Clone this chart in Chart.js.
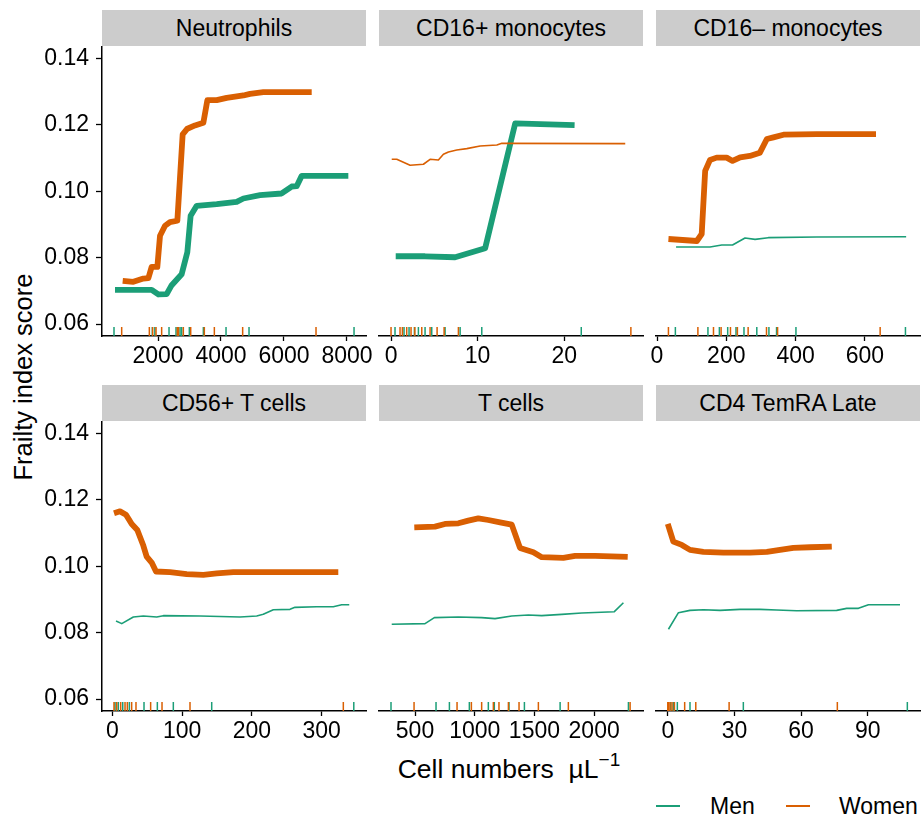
<!DOCTYPE html>
<html>
<head>
<meta charset="utf-8">
<script src="https://cdn.jsdelivr.net/npm/chart.js@4.4.1/dist/chart.umd.min.js"></script>
<style>
  html, body { margin: 0; padding: 0; background: #fff; overflow: hidden; }
  body { width: 921px; height: 818px; position: relative; font-family: "Liberation Sans", Arial, sans-serif; color: #000; }
  .strip { position: absolute; height: 36px; background: #ccc; font-size: 23px; line-height: 37px; text-align: center; white-space: nowrap; }
  canvas { position: absolute; }
  .ytitle { position: absolute; left: 23px; top: 377px; font-size: 25.5px; white-space: nowrap; transform: translate(-50%, -50%) rotate(-90deg); }
  .xtitle { position: absolute; left: 509px; top: 768px; font-size: 26.5px; white-space: nowrap; transform: translate(-50%, -50%); }
  .xtitle sup { font-size: 19px; position: relative; top: -2px; }
  .key { position: absolute; height: 2.2px; width: 24px; top: 805px; }
  .keytext { position: absolute; font-size: 23px; top: 793px; line-height: 26px; }
</style>
</head>
<body>
<div class="ytitle">Frailty index score</div>
<div class="xtitle">Cell numbers&nbsp; µL<sup>−1</sup></div>
<div class="key" style="left:656px;background:#1B9E77"></div>
<div class="keytext" style="left:710px">Men</div>
<div class="key" style="left:786px;background:#D95F02"></div>
<div class="keytext" style="left:839px">Women</div>

<script>
// ── Data ─────────────────────────────────────────────────────────────────────

const panelTitles = ['Neutrophils', 'CD16+ monocytes', 'CD16– monocytes', 'CD56+ T cells', 'T cells', 'CD4 TemRA Late'];

const yTicks = [0.06, 0.08, 0.10, 0.12, 0.14];

// Neutrophils
const neutroTicks = [2000, 4000, 6000, 8000];
const neutroMenX = [635, 1799, 2011, 2275, 2434, 2751, 2931, 3036, 3228, 3864, 4499, 4710, 5239, 5927, 6245, 6403, 6562, 8043];
const neutroMenY = [0.0703, 0.0703, 0.0689, 0.0690, 0.0717, 0.0750, 0.0816, 0.0926, 0.0956, 0.0961, 0.0968, 0.0978, 0.0988, 0.0993, 0.1014, 0.1015, 0.1046, 0.1046];
const neutroWomenX = [879, 1217, 1535, 1693, 1799, 1979, 2064, 2223, 2381, 2614, 2783, 2931, 3175, 3440, 3567, 3864, 4181, 4710, 4921, 5345, 6880];
const neutroWomenY = [0.0730, 0.0727, 0.0737, 0.0738, 0.0772, 0.0772, 0.0866, 0.0896, 0.0907, 0.0911, 0.1171, 0.1188, 0.1198, 0.1206, 0.1274, 0.1274, 0.1281, 0.1288, 0.1293, 0.1298, 0.1298];
const neutroRugMen = [603, 1820, 1900, 2350, 2572, 2700, 2751, 2995, 3440, 4160, 4890, 8224];
const neutroRugWomen = [847, 1725, 1830, 1937, 2116, 2614, 2650, 2804, 3038, 3471, 3789, 4688, 7017];

// CD16+ monocytes
const cd16pTicks = [0, 10, 20];
const cd16pMenX = [0.54, 3.93, 7.40, 10.87, 14.34, 21.2];
const cd16pMenY = [0.0804, 0.0804, 0.0801, 0.0828, 0.1204, 0.1199];
const cd16pWomenX = [0.08, 0.66, 2.20, 3.74, 4.51, 5.47, 6.05, 6.63, 7.59, 8.75, 10.29, 12.22, 12.8, 27.05];
const cd16pWomenY = [0.1096, 0.1096, 0.1078, 0.1081, 0.1096, 0.1094, 0.1111, 0.1118, 0.1124, 0.1128, 0.1136, 0.1139, 0.1144, 0.1143];
const cd16pRugMen = [0.46, 1.5, 2.08, 2.7, 3.16, 3.93, 4.7, 6.24, 7.98, 10.48, 21.97];
const cd16pRugWomen = [0.0, 1.04, 1.31, 1.81, 2.31, 2.75, 3.55, 4.51, 5.32, 6.13, 7.78, 27.7];

// CD16- monocytes
const cd16nTicks = [0, 200, 400, 600];
const cd16nMenX = [55, 153, 187, 218, 254, 283, 321, 461, 719];
const cd16nMenY = [0.0832, 0.0832, 0.0838, 0.0838, 0.0859, 0.0855, 0.0860, 0.0862, 0.0863];
const cd16nWomenX = [33, 115, 129, 139, 153, 172, 201, 218, 240, 268, 297, 317, 336, 365, 461, 632];
const cd16nWomenY = [0.0856, 0.0850, 0.0871, 0.1061, 0.1094, 0.1101, 0.1101, 0.1091, 0.1102, 0.1106, 0.1116, 0.1157, 0.1162, 0.1170, 0.1172, 0.1172];
const cd16nRugMen = [53, 147, 180, 204, 228, 251, 288, 323, 345, 401, 717];
const cd16nRugWomen = [33, 118, 163, 185, 212, 232, 263, 316, 348, 644];

// CD56+ T cells
const cd56Ticks = [0, 100, 200, 300];
const cd56MenX = [5.3, 13.5, 30.1, 44.4, 63.6, 73.1, 125.6, 183, 206.9, 216.3, 230.7, 254.6, 261.7, 292.8, 316.6, 328.7, 339.5];
const cd56MenY = [0.0835, 0.0827, 0.0847, 0.0850, 0.0847, 0.0851, 0.0850, 0.0847, 0.0850, 0.0855, 0.0869, 0.0870, 0.0876, 0.0878, 0.0878, 0.0884, 0.0884];
const cd56WomenX = [2.4, 11, 19.6, 27.8, 35.8, 44.4, 49.2, 56.4, 62.6, 82.7, 106.6, 130.4, 149.6, 173.4, 323.8];
const cd56WomenY = [0.1159, 0.1165, 0.1155, 0.1127, 0.1109, 0.1062, 0.1029, 0.1011, 0.0984, 0.0982, 0.0976, 0.0974, 0.0978, 0.0982, 0.0982];
const cd56RugMen = [3.9, 8.6, 14.9, 24.4, 45.4, 64.5, 87.4, 142.4, 346];
const cd56RugWomen = [2.4, 6.3, 12, 18.2, 21.5, 27.7, 33.9, 54.9, 71.2, 111.3, 331];

// T cells
const tcellTicks = [500, 1000, 1500, 2000];
const tcellMenX = [305, 584, 662, 863, 1058, 1170, 1310, 1449, 1561, 1729, 1896, 2169, 2245];
const tcellMenY = [0.0825, 0.0827, 0.0845, 0.0847, 0.0845, 0.0842, 0.0850, 0.0853, 0.0851, 0.0855, 0.0859, 0.0863, 0.0890];
const tcellWomenX = [494, 667, 751, 863, 946, 1030, 1114, 1212, 1310, 1379, 1491, 1561, 1742, 1840, 2008, 2281];
const tcellWomenY = [0.1117, 0.1119, 0.1127, 0.1129, 0.1137, 0.1144, 0.1139, 0.1132, 0.1125, 0.1055, 0.1042, 0.1027, 0.1025, 0.1031, 0.1031, 0.1028];
const tcellRugMen = [299, 676, 788, 955, 1114, 1164, 1287, 1416, 1715, 2287];
const tcellRugWomen = [492, 852, 972, 1058, 1156, 1203, 1282, 1371, 1533, 1784, 2301];

// CD4 TemRA Late
const temraTicks = [0, 30, 60, 90];
const temraMenX = [0.3, 4.8, 10, 16, 23.5, 32.5, 41.5, 49, 58, 76, 80.5, 85.8, 90.3, 104.5];
const temraMenY = [0.0810, 0.0860, 0.0867, 0.0869, 0.0867, 0.0870, 0.0870, 0.0868, 0.0866, 0.0867, 0.0873, 0.0873, 0.0884, 0.0884];
const temraWomenX = [0, 2.5, 6.3, 10, 16, 25, 37, 44.6, 50.5, 56.5, 64, 73.8];
const temraWomenY = [0.1127, 0.1074, 0.1064, 0.1049, 0.1043, 0.1041, 0.1041, 0.1043, 0.1049, 0.1055, 0.1057, 0.1059];
const temraRugMen = [1.3, 2.5, 4.3, 10, 34, 107.8];
const temraRugWomen = [0, 0.4, 1, 1.9, 3, 7.6, 12.6, 27.6, 76.3];

// x-axis limits per panel (data units)
const xLimits = [[222, 8604], [-1.39, 29.1], [-2.9, 759], [-14.8, 363.5], [198.5, 2409], [-5.3, 113.5]];
const yLimits = [0.0564, 0.1437];

// ── Panel setup ──────────────────────────────────────────────────────────────

const GREEN = '#1B9E77';
const ORANGE = '#D95F02';
const FONT = '"Liberation Sans", Arial, sans-serif';
const THICK = 5.8;
const THIN = 1.6;

const panels = [
    { ticks: neutroTicks, men: [neutroMenX, neutroMenY, THICK], women: [neutroWomenX, neutroWomenY, THICK], rug: [neutroRugMen, neutroRugWomen] },
    { ticks: cd16pTicks, men: [cd16pMenX, cd16pMenY, THICK], women: [cd16pWomenX, cd16pWomenY, THIN], rug: [cd16pRugMen, cd16pRugWomen] },
    { ticks: cd16nTicks, men: [cd16nMenX, cd16nMenY, THIN], women: [cd16nWomenX, cd16nWomenY, THICK], rug: [cd16nRugMen, cd16nRugWomen] },
    { ticks: cd56Ticks, men: [cd56MenX, cd56MenY, THIN], women: [cd56WomenX, cd56WomenY, THICK], rug: [cd56RugMen, cd56RugWomen] },
    { ticks: tcellTicks, men: [tcellMenX, tcellMenY, THIN], women: [tcellWomenX, tcellWomenY, THICK], rug: [tcellRugMen, tcellRugWomen] },
    { ticks: temraTicks, men: [temraMenX, temraMenY, THIN], women: [temraWomenX, temraWomenY, THICK], rug: [temraRugMen, temraRugWomen] },
];

// layout in page pixels
const colLeft = [102, 379, 656];
const rowTop = [46, 421];
const PLOT_W = 264;
const PLOT_H = 290;
const X_AXIS_H = 44;
const PAD_R = 14;

const rugPlugin = {
    id: 'rug',
    afterDatasetsDraw(chart, args, opts) {
        const { ctx, chartArea, scales } = chart;
        ctx.save();
        ctx.beginPath();
        ctx.rect(chartArea.left, chartArea.top, chartArea.width, chartArea.height);
        ctx.clip();
        ctx.lineWidth = 1.5;
        opts.sets.forEach(set => {
            ctx.strokeStyle = set.color;
            set.values.forEach(v => {
                const x = scales.x.getPixelForValue(v);
                ctx.beginPath();
                ctx.moveTo(x, chartArea.bottom);
                ctx.lineTo(x, chartArea.bottom - 9);
                ctx.stroke();
            });
        });
        ctx.restore();
    },
};

function toPoints(xs, ys) {
    return xs.map((x, i) => ({ x, y: ys[i] }));
}

panels.forEach((p, i) => {
    const col = i % 3;
    const row = Math.floor(i / 3);
    const yW = col === 0 ? 102 : 13;
    const left = colLeft[col];
    const top = rowTop[row];

    const strip = document.createElement('div');
    strip.className = 'strip';
    strip.style.left = left + 'px';
    strip.style.top = (top - 36) + 'px';
    strip.style.width = PLOT_W + 'px';
    strip.textContent = panelTitles[i];
    document.body.appendChild(strip);

    const canvas = document.createElement('canvas');
    canvas.width = yW + PLOT_W + PAD_R;
    canvas.height = PLOT_H + X_AXIS_H;
    canvas.style.left = (left - yW) + 'px';
    canvas.style.top = top + 'px';
    document.body.appendChild(canvas);

    new Chart(canvas, {
        type: 'line',
        data: {
            datasets: [
                {
                    label: 'Men',
                    data: toPoints(p.men[0], p.men[1]),
                    borderColor: GREEN,
                    borderWidth: p.men[2],
                    order: 1,
                },
                {
                    label: 'Women',
                    data: toPoints(p.women[0], p.women[1]),
                    borderColor: ORANGE,
                    borderWidth: p.women[2],
                    order: 0,
                },
            ],
        },
        options: {
            responsive: false,
            animation: false,
            events: [],
            layout: { padding: { left: 0, top: 0, bottom: 0, right: PAD_R } },
            elements: {
                point: { radius: 0 },
                line: { tension: 0, borderJoinStyle: 'round', borderCapStyle: 'butt', fill: false },
            },
            plugins: {
                legend: { display: false },
                tooltip: { enabled: false },
                rug: {
                    sets: [
                        { values: p.rug[0], color: GREEN },
                        { values: p.rug[1], color: ORANGE },
                    ],
                },
            },
            scales: {
                x: {
                    type: 'linear',
                    min: xLimits[i][0],
                    max: xLimits[i][1],
                    afterBuildTicks: s => { s.ticks = p.ticks.map(v => ({ value: v })); },
                    afterFit: s => { s.height = X_AXIS_H; s.paddingLeft = 0; s.paddingRight = 0; },
                    grid: { drawOnChartArea: false, tickLength: 5, tickColor: '#000', tickWidth: 1.3 },
                    border: { display: true, color: '#000', width: 1.5 },
                    ticks: {
                        color: '#000',
                        font: { family: FONT, size: 23 },
                        padding: 2,
                        autoSkip: false,
                        maxRotation: 0,
                        callback: v => String(v),
                    },
                },
                y: {
                    type: 'linear',
                    min: yLimits[0],
                    max: yLimits[1],
                    afterBuildTicks: s => { s.ticks = yTicks.map(v => ({ value: v })); },
                    afterFit: s => { s.width = yW; s.paddingTop = 0; s.paddingBottom = 0; },
                    grid: { display: col === 0, drawOnChartArea: false, tickLength: 6, tickColor: '#000', tickWidth: 1.3 },
                    border: { display: col === 0, color: '#000', width: 1.5 },
                    ticks: {
                        display: col === 0,
                        color: '#000',
                        font: { family: FONT, size: 23 },
                        padding: 7,
                        callback: v => v.toFixed(2),
                    },
                },
            },
        },
        plugins: [rugPlugin],
    });
});
</script>
</body>
</html>
